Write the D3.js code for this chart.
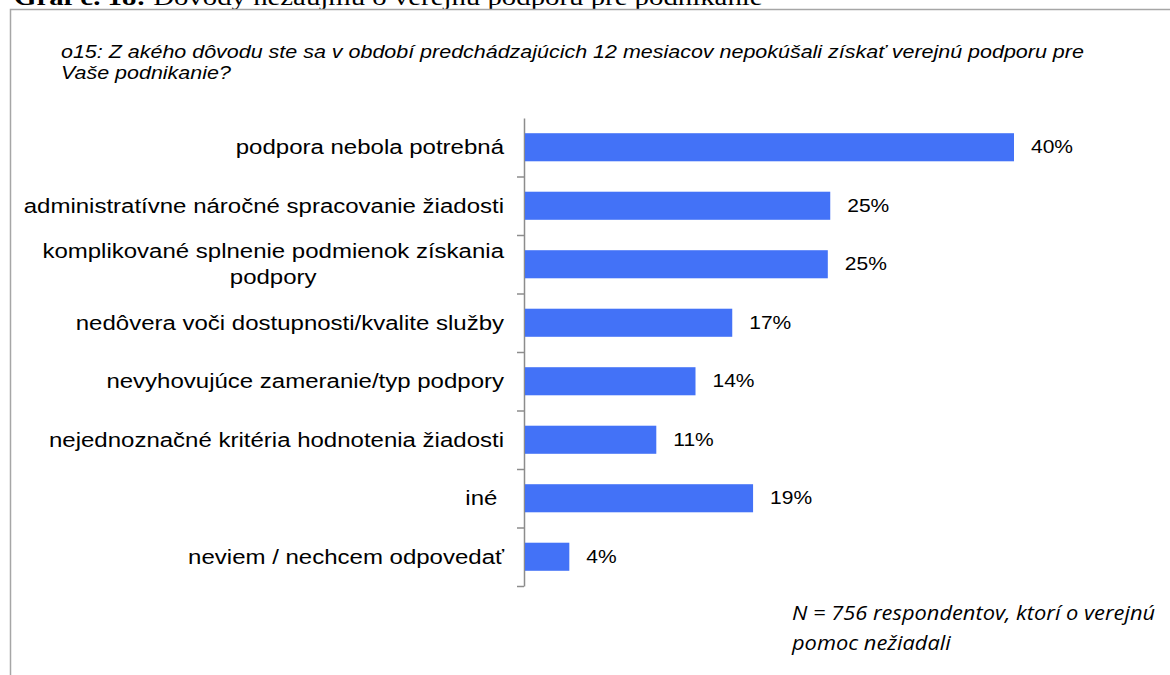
<!DOCTYPE html>
<html>
<head>
<meta charset="utf-8">
<script src="https://cdn.jsdelivr.net/npm/d3@7"></script>
<style>
  body { margin: 0; background: #fff; }
  svg { display: block; }
</style>
</head>
<body>
<script>
// data
const categories = [
  "podpora nebola potrebná",
  "administratívne náročné spracovanie žiadosti",
  "komplikované splnenie podmienok získania|podpory",
  "nedôvera voči dostupnosti/kvalite služby",
  "nevyhovujúce zameranie/typ podpory",
  "nejednoznačné kritéria hodnotenia žiadosti",
  "iné ",
  "neviem / nechcem odpovedať"
];
const values = [40.0, 25.0, 24.8, 17.0, 14.0, 10.8, 18.7, 3.7];
const valueLabels = ["40%", "25%", "25%", "17%", "14%", "11%", "19%", "4%"];

const titleText = ["Graf č. 18:", " Dôvody nezáujmu o verejnú podporu pre podnikanie"];
const subtitleLines = [
  "o15: Z akého dôvodu ste sa v období predchádzajúcich 12 mesiacov nepokúšali získať verejnú podporu pre",
  "Vaše podnikanie?"
];
const noteLines = ["N = 756 respondentov, ktorí o verejnú", "pomoc nežiadali"];

const W = 1170, H = 675;
const barColor = "#4372f7";
const sans = "'Liberation Sans', Arial, sans-serif";
// the source picture is a bit wider than tall, so text is stretched sideways
const sx = 1.2;

function stretch(sel, k) {
  sel.each(function() {
    let w = this.getComputedTextLength();
    d3.select(this).attr("textLength", w * k).attr("lengthAdjust", "spacingAndGlyphs");
  });
}

const svg = d3.select("body").append("svg")
  .attr("width", W)
  .attr("height", H);

svg.append("rect").attr("width", W).attr("height", H).attr("fill", "#fff");

// cropped document title at the very top
let t = svg.append("text")
  .attr("x", 14).attr("y", 5)
  .attr("font-family", "'Liberation Serif', 'Times New Roman', serif")
  .attr("font-size", 24)
  .attr("fill", "#000");
t.append("tspan").attr("font-weight", "bold").text(titleText[0]);
t.append("tspan").text(titleText[1]);
stretch(t, sx);

// frame of the chart box
svg.append("path")
  .attr("d", "M10.5,675 V9.5 H1170")
  .attr("fill", "none")
  .attr("stroke", "#a6a6a6")
  .attr("stroke-width", 1.5);

// question
let sub = svg.append("g").selectAll("text")
  .data(subtitleLines)
  .enter().append("text")
  .attr("x", 61)
  .attr("y", (d, i) => 58 + i * 21)
  .attr("font-family", sans)
  .attr("font-style", "italic")
  .attr("font-size", 18.5)
  .attr("fill", "#000")
  .text(d => d);
stretch(sub, 1.16);

var margin = {top: 118, bottom: 586, left: 524};
var x = d3.scaleLinear().domain([0, 40]).range([margin.left, 1014]);
var y = d3.scaleBand().domain(categories)
  .range([margin.top, margin.bottom]).paddingInner(0.52).paddingOuter(0.26);

// tick positions sit on the category boundaries
var yEdge = d3.scaleLinear().domain([0, categories.length]).range([margin.top, margin.bottom]);

var yAxis = d3.axisLeft(yEdge)
  .tickValues(d3.range(1, categories.length + 1))
  .tickSize(7)
  .tickSizeOuter(0)
  .tickFormat("");

var ax = svg.append("g")
  .attr("transform", "translate(" + margin.left + ",0)")
  .call(yAxis);
ax.selectAll("path, line").attr("stroke", "#8c8c8c").attr("stroke-width", 1.5);

// bars
svg.selectAll(".bar")
  .data(categories)
  .enter().append("rect")
  .attr("class", "bar")
  .attr("x", x(0) + 1)
  .attr("y", d => y(d))
  .attr("width", (d, i) => x(values[i]) - x(0) - 1)
  .attr("height", y.bandwidth())
  .attr("fill", barColor);

// value labels
let vals = svg.selectAll(".val")
  .data(categories)
  .enter().append("text")
  .attr("class", "val")
  .attr("x", (d, i) => x(values[i]) + 17)
  .attr("y", d => y(d) + y.bandwidth() / 2)
  .attr("dy", "0.35em")
  .attr("font-family", sans)
  .attr("font-size", 17.5)
  .attr("fill", "#000")
  .text((d, i) => valueLabels[i]);
stretch(vals, sx);

// category labels (| splits a wrapped label)
var lab = svg.selectAll(".cat")
  .data(categories)
  .enter().append("text")
  .attr("class", "cat")
  .attr("font-family", sans)
  .attr("font-size", 20)
  .attr("fill", "#000")
  .style("white-space", "pre");

lab.each(function(d) {
  let parts = d.split("|");
  let cy = y(d) + y.bandwidth() / 2;
  let el = d3.select(this);
  if (parts.length == 1) {
    el.attr("text-anchor", "end").attr("x", 504).attr("y", cy).attr("dy", "0.35em").text(d);
    stretch(el, sx);
  } else {
    // first line right aligned, second centred under it
    el.attr("text-anchor", "end").attr("x", 504).attr("y", cy - 13).attr("dy", "0.35em").text(parts[0]);
    let w = this.getComputedTextLength() * sx;
    stretch(el, sx);
    let l2 = svg.append("text")
      .attr("x", 504 - w / 2)
      .attr("y", cy + 13)
      .attr("dy", "0.35em")
      .attr("text-anchor", "middle")
      .attr("font-family", sans)
      .attr("font-size", 20)
      .attr("fill", "#000")
      .text(parts[1]);
    stretch(l2, sx);
  }
});

// sample note
let note = svg.append("g").selectAll("text")
  .data(noteLines)
  .enter().append("text")
  .attr("x", 792)
  .attr("y", (d, i) => 620 + i * 30)
  .attr("font-family", "'Open Sans', 'Noto Sans', sans-serif")
  .attr("font-style", "italic")
  .attr("font-size", 19.5)
  .attr("fill", "#000")
  .text(d => d);
stretch(note, 1.12);
</script>
</body>
</html>
